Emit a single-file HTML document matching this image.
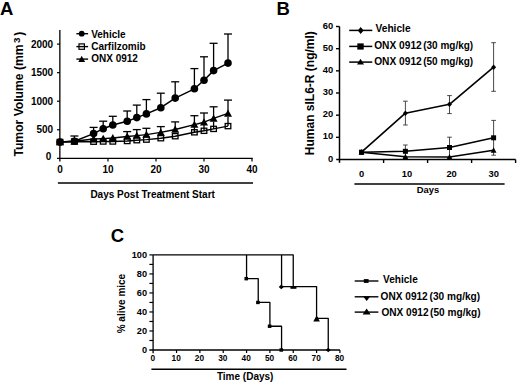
<!DOCTYPE html>
<html><head><meta charset="utf-8"><style>
html,body{margin:0;padding:0;background:#fff;}
body{width:520px;height:386px;overflow:hidden;}
svg{display:block;font-family:"Liberation Sans", sans-serif;}
</style></head><body>
<svg width="520" height="386" viewBox="0 0 520 386">
<rect width="520" height="386" fill="#fff"/>
<text x="0.00" y="14.80" font-size="18.5" text-anchor="start" font-weight="bold" >A</text>
<text transform="translate(23.1,156.6) rotate(-90)" font-size="12.15" font-weight="bold">Tumor Volume (mm<tspan font-size="9.8" dx="1.3" dy="-3.4">3</tspan><tspan dx="2.0" dy="3.4">)</tspan></text>
<line x1="59.85" y1="30.00" x2="59.85" y2="161.60" stroke="#000" stroke-width="1.3"/>
<line x1="57.00" y1="158.30" x2="252.70" y2="158.30" stroke="#000" stroke-width="1.3"/>
<line x1="57.00" y1="129.75" x2="60.00" y2="129.75" stroke="#000" stroke-width="1.2"/>
<line x1="57.00" y1="101.20" x2="60.00" y2="101.20" stroke="#000" stroke-width="1.2"/>
<line x1="57.00" y1="72.65" x2="60.00" y2="72.65" stroke="#000" stroke-width="1.2"/>
<line x1="57.00" y1="44.10" x2="60.00" y2="44.10" stroke="#000" stroke-width="1.2"/>
<line x1="108.00" y1="158.30" x2="108.00" y2="161.60" stroke="#000" stroke-width="1.2"/>
<line x1="156.00" y1="158.30" x2="156.00" y2="161.60" stroke="#000" stroke-width="1.2"/>
<line x1="204.00" y1="158.30" x2="204.00" y2="161.60" stroke="#000" stroke-width="1.2"/>
<line x1="252.00" y1="158.30" x2="252.00" y2="161.60" stroke="#000" stroke-width="1.2"/>
<text x="53.20" y="47.60" font-size="10" text-anchor="end" font-weight="bold" >2000</text>
<text x="53.20" y="76.15" font-size="10" text-anchor="end" font-weight="bold" >1500</text>
<text x="53.20" y="104.70" font-size="10" text-anchor="end" font-weight="bold" >1000</text>
<text x="53.20" y="133.25" font-size="10" text-anchor="end" font-weight="bold" >500</text>
<text x="51.20" y="160.00" font-size="10" text-anchor="end" font-weight="bold" >0</text>
<text x="60.00" y="173.40" font-size="10" text-anchor="middle" font-weight="bold" >0</text>
<text x="108.00" y="173.40" font-size="10" text-anchor="middle" font-weight="bold" >10</text>
<text x="156.00" y="173.40" font-size="10" text-anchor="middle" font-weight="bold" >20</text>
<text x="204.00" y="173.40" font-size="10" text-anchor="middle" font-weight="bold" >30</text>
<text x="252.00" y="173.40" font-size="10" text-anchor="middle" font-weight="bold" >40</text>
<line x1="57.90" y1="183.00" x2="253.00" y2="183.00" stroke="#000" stroke-width="1.5"/>
<text x="90.40" y="197.80" font-size="10" text-anchor="start" font-weight="bold" >Days Post Treatment Start</text>
<polyline points="60.00,142.00 74.40,141.50 93.60,141.70 103.20,141.50 112.80,141.50 127.20,141.00 136.80,140.20 146.40,139.60 160.80,138.20 175.20,136.20 194.40,132.30 204.00,130.80 213.60,128.90 228.00,126.10" fill="none" stroke="#000" stroke-width="1.4" stroke-linejoin="round"/>
<polyline points="60.00,142.00 74.40,141.20 93.60,139.00 103.20,138.60 112.80,138.00 127.20,136.50 136.80,135.60 146.40,134.60 160.80,132.40 175.20,129.50 194.40,124.60 204.00,122.20 213.60,118.40 228.00,113.40" fill="none" stroke="#000" stroke-width="1.4" stroke-linejoin="round"/>
<polyline points="60.00,142.10 74.40,141.20 93.60,133.60 103.20,128.70 112.80,125.00 127.20,121.30 136.80,117.60 146.40,113.90 160.80,107.70 175.20,98.10 194.40,88.80 204.00,80.20 213.60,70.60 228.00,63.10" fill="none" stroke="#000" stroke-width="1.5" stroke-linejoin="round"/>
<line x1="127.20" y1="136.50" x2="127.20" y2="131.60" stroke="#000" stroke-width="1.3"/>
<line x1="123.20" y1="131.60" x2="131.20" y2="131.60" stroke="#000" stroke-width="1.3"/>
<line x1="136.80" y1="135.60" x2="136.80" y2="129.60" stroke="#000" stroke-width="1.3"/>
<line x1="132.80" y1="129.60" x2="140.80" y2="129.60" stroke="#000" stroke-width="1.3"/>
<line x1="146.40" y1="134.60" x2="146.40" y2="128.30" stroke="#000" stroke-width="1.3"/>
<line x1="142.40" y1="128.30" x2="150.40" y2="128.30" stroke="#000" stroke-width="1.3"/>
<line x1="160.80" y1="132.40" x2="160.80" y2="126.60" stroke="#000" stroke-width="1.3"/>
<line x1="156.80" y1="126.60" x2="164.80" y2="126.60" stroke="#000" stroke-width="1.3"/>
<line x1="175.20" y1="129.50" x2="175.20" y2="121.90" stroke="#000" stroke-width="1.3"/>
<line x1="171.20" y1="121.90" x2="179.20" y2="121.90" stroke="#000" stroke-width="1.3"/>
<line x1="194.40" y1="124.60" x2="194.40" y2="115.70" stroke="#000" stroke-width="1.3"/>
<line x1="190.40" y1="115.70" x2="198.40" y2="115.70" stroke="#000" stroke-width="1.3"/>
<line x1="204.00" y1="122.20" x2="204.00" y2="113.00" stroke="#000" stroke-width="1.3"/>
<line x1="200.00" y1="113.00" x2="208.00" y2="113.00" stroke="#000" stroke-width="1.3"/>
<line x1="213.60" y1="118.40" x2="213.60" y2="106.80" stroke="#000" stroke-width="1.3"/>
<line x1="209.60" y1="106.80" x2="217.60" y2="106.80" stroke="#000" stroke-width="1.3"/>
<line x1="228.00" y1="113.40" x2="228.00" y2="100.10" stroke="#000" stroke-width="1.3"/>
<line x1="224.00" y1="100.10" x2="232.00" y2="100.10" stroke="#000" stroke-width="1.3"/>
<line x1="74.40" y1="141.20" x2="74.40" y2="136.00" stroke="#000" stroke-width="1.3"/>
<line x1="70.40" y1="136.00" x2="78.40" y2="136.00" stroke="#000" stroke-width="1.3"/>
<line x1="93.60" y1="133.60" x2="93.60" y2="127.40" stroke="#000" stroke-width="1.3"/>
<line x1="89.60" y1="127.40" x2="97.60" y2="127.40" stroke="#000" stroke-width="1.3"/>
<line x1="103.20" y1="128.70" x2="103.20" y2="121.20" stroke="#000" stroke-width="1.3"/>
<line x1="99.20" y1="121.20" x2="107.20" y2="121.20" stroke="#000" stroke-width="1.3"/>
<line x1="112.80" y1="125.00" x2="112.80" y2="116.30" stroke="#000" stroke-width="1.3"/>
<line x1="108.80" y1="116.30" x2="116.80" y2="116.30" stroke="#000" stroke-width="1.3"/>
<line x1="127.20" y1="121.30" x2="127.20" y2="111.00" stroke="#000" stroke-width="1.3"/>
<line x1="123.20" y1="111.00" x2="131.20" y2="111.00" stroke="#000" stroke-width="1.3"/>
<line x1="136.80" y1="117.60" x2="136.80" y2="105.10" stroke="#000" stroke-width="1.3"/>
<line x1="132.80" y1="105.10" x2="140.80" y2="105.10" stroke="#000" stroke-width="1.3"/>
<line x1="146.40" y1="113.90" x2="146.40" y2="99.60" stroke="#000" stroke-width="1.3"/>
<line x1="142.40" y1="99.60" x2="150.40" y2="99.60" stroke="#000" stroke-width="1.3"/>
<line x1="160.80" y1="107.70" x2="160.80" y2="93.20" stroke="#000" stroke-width="1.3"/>
<line x1="156.80" y1="93.20" x2="164.80" y2="93.20" stroke="#000" stroke-width="1.3"/>
<line x1="175.20" y1="98.10" x2="175.20" y2="81.80" stroke="#000" stroke-width="1.3"/>
<line x1="171.20" y1="81.80" x2="179.20" y2="81.80" stroke="#000" stroke-width="1.3"/>
<line x1="194.40" y1="88.80" x2="194.40" y2="68.60" stroke="#000" stroke-width="1.3"/>
<line x1="190.40" y1="68.60" x2="198.40" y2="68.60" stroke="#000" stroke-width="1.3"/>
<line x1="204.00" y1="80.20" x2="204.00" y2="56.80" stroke="#000" stroke-width="1.3"/>
<line x1="200.00" y1="56.80" x2="208.00" y2="56.80" stroke="#000" stroke-width="1.3"/>
<line x1="213.60" y1="70.60" x2="213.60" y2="43.30" stroke="#000" stroke-width="1.3"/>
<line x1="209.60" y1="43.30" x2="217.60" y2="43.30" stroke="#000" stroke-width="1.3"/>
<line x1="228.00" y1="63.10" x2="228.00" y2="34.00" stroke="#000" stroke-width="1.3"/>
<line x1="224.00" y1="34.00" x2="232.00" y2="34.00" stroke="#000" stroke-width="1.3"/>
<line x1="194.40" y1="132.30" x2="194.40" y2="126.50" stroke="#000" stroke-width="1.3"/>
<line x1="204.00" y1="130.80" x2="204.00" y2="125.00" stroke="#000" stroke-width="1.3"/>
<line x1="213.60" y1="128.90" x2="213.60" y2="121.50" stroke="#000" stroke-width="1.3"/>
<line x1="228.00" y1="126.10" x2="228.00" y2="117.00" stroke="#000" stroke-width="1.3"/>
<rect x="57.20" y="139.40" width="5.6" height="5.2" fill="none" stroke="#000" stroke-width="1.3"/>
<rect x="71.60" y="138.90" width="5.6" height="5.2" fill="none" stroke="#000" stroke-width="1.3"/>
<rect x="90.80" y="139.10" width="5.6" height="5.2" fill="none" stroke="#000" stroke-width="1.3"/>
<rect x="100.40" y="138.90" width="5.6" height="5.2" fill="none" stroke="#000" stroke-width="1.3"/>
<rect x="110.00" y="138.90" width="5.6" height="5.2" fill="none" stroke="#000" stroke-width="1.3"/>
<rect x="124.40" y="138.40" width="5.6" height="5.2" fill="none" stroke="#000" stroke-width="1.3"/>
<rect x="134.00" y="137.60" width="5.6" height="5.2" fill="none" stroke="#000" stroke-width="1.3"/>
<rect x="143.60" y="137.00" width="5.6" height="5.2" fill="none" stroke="#000" stroke-width="1.3"/>
<rect x="158.00" y="135.60" width="5.6" height="5.2" fill="none" stroke="#000" stroke-width="1.3"/>
<rect x="172.40" y="133.60" width="5.6" height="5.2" fill="none" stroke="#000" stroke-width="1.3"/>
<rect x="191.60" y="129.70" width="5.6" height="5.2" fill="none" stroke="#000" stroke-width="1.3"/>
<rect x="201.20" y="128.20" width="5.6" height="5.2" fill="none" stroke="#000" stroke-width="1.3"/>
<rect x="210.80" y="126.30" width="5.6" height="5.2" fill="none" stroke="#000" stroke-width="1.3"/>
<rect x="225.20" y="123.50" width="5.6" height="5.2" fill="none" stroke="#000" stroke-width="1.3"/>
<polygon points="60.00,138.04 64.00,145.24 56.00,145.24" fill="#000"/>
<polygon points="74.40,137.24 78.40,144.44 70.40,144.44" fill="#000"/>
<polygon points="93.60,135.04 97.60,142.24 89.60,142.24" fill="#000"/>
<polygon points="103.20,134.64 107.20,141.84 99.20,141.84" fill="#000"/>
<polygon points="112.80,134.04 116.80,141.24 108.80,141.24" fill="#000"/>
<polygon points="127.20,132.54 131.20,139.74 123.20,139.74" fill="#000"/>
<polygon points="136.80,131.64 140.80,138.84 132.80,138.84" fill="#000"/>
<polygon points="146.40,130.64 150.40,137.84 142.40,137.84" fill="#000"/>
<polygon points="160.80,128.44 164.80,135.64 156.80,135.64" fill="#000"/>
<polygon points="175.20,125.54 179.20,132.74 171.20,132.74" fill="#000"/>
<polygon points="194.40,120.64 198.40,127.84 190.40,127.84" fill="#000"/>
<polygon points="204.00,118.24 208.00,125.44 200.00,125.44" fill="#000"/>
<polygon points="213.60,114.44 217.60,121.64 209.60,121.64" fill="#000"/>
<polygon points="228.00,109.44 232.00,116.64 224.00,116.64" fill="#000"/>
<circle cx="60.00" cy="142.10" r="3.8" fill="#000"/>
<circle cx="74.40" cy="141.20" r="3.8" fill="#000"/>
<circle cx="93.60" cy="133.60" r="3.8" fill="#000"/>
<circle cx="103.20" cy="128.70" r="3.8" fill="#000"/>
<circle cx="112.80" cy="125.00" r="3.8" fill="#000"/>
<circle cx="127.20" cy="121.30" r="3.8" fill="#000"/>
<circle cx="136.80" cy="117.60" r="3.8" fill="#000"/>
<circle cx="146.40" cy="113.90" r="3.8" fill="#000"/>
<circle cx="160.80" cy="107.70" r="3.8" fill="#000"/>
<circle cx="175.20" cy="98.10" r="3.8" fill="#000"/>
<circle cx="194.40" cy="88.80" r="3.8" fill="#000"/>
<circle cx="204.00" cy="80.20" r="3.8" fill="#000"/>
<circle cx="213.60" cy="70.60" r="3.8" fill="#000"/>
<circle cx="228.00" cy="63.10" r="3.8" fill="#000"/>
<line x1="76.40" y1="33.70" x2="88.10" y2="33.70" stroke="#000" stroke-width="1.4"/>
<circle cx="81.70" cy="33.70" r="2.9" fill="#000"/>
<text x="91.20" y="38.00" font-size="10" text-anchor="start" font-weight="bold" >Vehicle</text>
<line x1="76.40" y1="46.60" x2="88.10" y2="46.60" stroke="#000" stroke-width="1.4"/>
<rect x="79.00" y="43.90" width="5.4" height="5.4" fill="none" stroke="#000" stroke-width="1.2"/>
<text x="91.20" y="50.00" font-size="10" text-anchor="start" font-weight="bold" >Carfilzomib</text>
<line x1="76.40" y1="59.10" x2="88.10" y2="59.10" stroke="#000" stroke-width="1.4"/>
<polygon points="81.70,55.69 85.10,61.89 78.30,61.89" fill="#000"/>
<text x="91.20" y="62.00" font-size="10" text-anchor="start" font-weight="bold" >ONX 0912</text>
<text x="276.40" y="14.80" font-size="18.5" text-anchor="start" font-weight="bold" >B</text>
<text transform="translate(314,155.2) rotate(-90)" font-size="12" font-weight="bold">Human sIL6-R (ng/ml)</text>
<line x1="339.50" y1="26.50" x2="339.50" y2="162.80" stroke="#000" stroke-width="1.5"/>
<line x1="336.20" y1="159.50" x2="515.60" y2="159.50" stroke="#000" stroke-width="1.5"/>
<line x1="336.00" y1="137.33" x2="339.50" y2="137.33" stroke="#000" stroke-width="1.4"/>
<line x1="336.00" y1="115.17" x2="339.50" y2="115.17" stroke="#000" stroke-width="1.4"/>
<line x1="336.00" y1="93.00" x2="339.50" y2="93.00" stroke="#000" stroke-width="1.4"/>
<line x1="336.00" y1="70.83" x2="339.50" y2="70.83" stroke="#000" stroke-width="1.4"/>
<line x1="336.00" y1="48.67" x2="339.50" y2="48.67" stroke="#000" stroke-width="1.4"/>
<line x1="336.00" y1="26.50" x2="339.50" y2="26.50" stroke="#000" stroke-width="1.4"/>
<line x1="383.60" y1="159.50" x2="383.60" y2="163.00" stroke="#000" stroke-width="1.4"/>
<line x1="427.60" y1="159.50" x2="427.60" y2="163.00" stroke="#000" stroke-width="1.4"/>
<line x1="471.60" y1="159.50" x2="471.60" y2="163.00" stroke="#000" stroke-width="1.4"/>
<line x1="515.60" y1="159.50" x2="515.60" y2="163.00" stroke="#000" stroke-width="1.4"/>
<text x="333.30" y="161.60" font-size="9.4" text-anchor="end" font-weight="bold" >0</text>
<text x="333.30" y="139.43" font-size="9.4" text-anchor="end" font-weight="bold" >10</text>
<text x="333.30" y="117.27" font-size="9.4" text-anchor="end" font-weight="bold" >20</text>
<text x="333.30" y="95.10" font-size="9.4" text-anchor="end" font-weight="bold" >30</text>
<text x="333.30" y="72.93" font-size="9.4" text-anchor="end" font-weight="bold" >40</text>
<text x="333.30" y="50.77" font-size="9.4" text-anchor="end" font-weight="bold" >50</text>
<text x="333.30" y="28.60" font-size="9.4" text-anchor="end" font-weight="bold" >60</text>
<text x="361.60" y="177.00" font-size="9.4" text-anchor="middle" font-weight="bold" >0</text>
<text x="407.00" y="177.00" font-size="9.4" text-anchor="middle" font-weight="bold" >10</text>
<text x="451.60" y="177.00" font-size="9.4" text-anchor="middle" font-weight="bold" >20</text>
<text x="493.80" y="177.00" font-size="9.4" text-anchor="middle" font-weight="bold" >30</text>
<line x1="354.40" y1="184.00" x2="504.60" y2="184.00" stroke="#000" stroke-width="1.5"/>
<text x="416.70" y="193.40" font-size="9.4" text-anchor="start" font-weight="bold" >Days</text>
<line x1="405.40" y1="145.00" x2="405.40" y2="157.60" stroke="#333" stroke-width="0.9"/>
<line x1="403.10" y1="145.00" x2="407.70" y2="145.00" stroke="#333" stroke-width="0.9"/>
<line x1="403.10" y1="157.60" x2="407.70" y2="157.60" stroke="#333" stroke-width="0.9"/>
<line x1="449.50" y1="137.20" x2="449.50" y2="157.80" stroke="#333" stroke-width="0.9"/>
<line x1="447.20" y1="137.20" x2="451.80" y2="137.20" stroke="#333" stroke-width="0.9"/>
<line x1="447.20" y1="157.80" x2="451.80" y2="157.80" stroke="#333" stroke-width="0.9"/>
<line x1="493.60" y1="120.40" x2="493.60" y2="155.20" stroke="#333" stroke-width="0.9"/>
<line x1="491.30" y1="120.40" x2="495.90" y2="120.40" stroke="#333" stroke-width="0.9"/>
<line x1="491.30" y1="155.20" x2="495.90" y2="155.20" stroke="#333" stroke-width="0.9"/>
<line x1="405.40" y1="101.20" x2="405.40" y2="125.00" stroke="#333" stroke-width="0.9"/>
<line x1="403.10" y1="101.20" x2="407.70" y2="101.20" stroke="#333" stroke-width="0.9"/>
<line x1="403.10" y1="125.00" x2="407.70" y2="125.00" stroke="#333" stroke-width="0.9"/>
<line x1="449.50" y1="95.60" x2="449.50" y2="113.60" stroke="#333" stroke-width="0.9"/>
<line x1="447.20" y1="95.60" x2="451.80" y2="95.60" stroke="#333" stroke-width="0.9"/>
<line x1="447.20" y1="113.60" x2="451.80" y2="113.60" stroke="#333" stroke-width="0.9"/>
<line x1="493.60" y1="42.70" x2="493.60" y2="91.30" stroke="#333" stroke-width="0.9"/>
<line x1="491.30" y1="42.70" x2="495.90" y2="42.70" stroke="#333" stroke-width="0.9"/>
<line x1="491.30" y1="91.30" x2="495.90" y2="91.30" stroke="#333" stroke-width="0.9"/>
<polyline points="361.50,152.20 405.40,156.80 449.50,157.00 493.60,150.30" fill="none" stroke="#000" stroke-width="1.4" stroke-linejoin="round"/>
<polyline points="361.50,152.20 405.40,151.30 449.50,147.50 493.60,137.80" fill="none" stroke="#000" stroke-width="1.5" stroke-linejoin="round"/>
<polyline points="361.50,152.20 405.40,113.20 449.50,104.30 493.60,67.20" fill="none" stroke="#000" stroke-width="1.6" stroke-linejoin="round"/>
<polygon points="361.50,149.12 364.40,154.72 358.60,154.72" fill="#000"/>
<polygon points="405.40,153.72 408.30,159.32 402.50,159.32" fill="#000"/>
<polygon points="449.50,153.92 452.40,159.52 446.60,159.52" fill="#000"/>
<polygon points="493.60,147.22 496.50,152.82 490.70,152.82" fill="#000"/>
<rect x="359.00" y="149.70" width="5.0" height="5.0" fill="#000"/>
<rect x="402.90" y="148.80" width="5.0" height="5.0" fill="#000"/>
<rect x="447.00" y="145.00" width="5.0" height="5.0" fill="#000"/>
<rect x="491.10" y="135.30" width="5.0" height="5.0" fill="#000"/>
<polygon points="361.50,149.50 364.00,152.20 361.50,154.90 359.00,152.20" fill="#000"/>
<polygon points="405.40,110.50 407.90,113.20 405.40,115.90 402.90,113.20" fill="#000"/>
<polygon points="449.50,101.60 452.00,104.30 449.50,107.00 447.00,104.30" fill="#000"/>
<polygon points="493.60,64.50 496.10,67.20 493.60,69.90 491.10,67.20" fill="#000"/>
<line x1="349.20" y1="30.40" x2="372.30" y2="30.40" stroke="#000" stroke-width="1.5"/>
<polygon points="360.70,27.10 363.60,30.50 360.70,33.90 357.80,30.50" fill="#000"/>
<text x="375.50" y="32.40" font-size="10.2" text-anchor="start" font-weight="bold" >Vehicle</text>
<line x1="349.20" y1="46.40" x2="372.30" y2="46.40" stroke="#000" stroke-width="1.5"/>
<rect x="357.30" y="43.40" width="6.4" height="6.2" fill="#000"/>
<text x="374.20" y="49.30" font-size="10.2" text-anchor="start" font-weight="bold" >ONX 0912</text>
<text x="423.20" y="49.30" font-size="10.0" text-anchor="start" font-weight="bold" >(30 mg/kg)</text>
<line x1="349.20" y1="62.10" x2="372.30" y2="62.10" stroke="#000" stroke-width="1.5"/>
<polygon points="360.50,58.81 364.00,64.61 357.00,64.61" fill="#000"/>
<text x="374.20" y="65.10" font-size="10.2" text-anchor="start" font-weight="bold" >ONX 0912</text>
<text x="423.20" y="65.10" font-size="10.0" text-anchor="start" font-weight="bold" >(50 mg/kg)</text>
<text x="110.80" y="242.00" font-size="18.5" text-anchor="start" font-weight="bold" >C</text>
<text transform="translate(124.5,333.3) rotate(-90)" font-size="10" font-weight="bold">% alive mice</text>
<line x1="153.10" y1="254.90" x2="153.10" y2="353.30" stroke="#000" stroke-width="1.3"/>
<line x1="149.30" y1="350.00" x2="339.90" y2="350.00" stroke="#000" stroke-width="1.3"/>
<line x1="149.40" y1="340.49" x2="153.10" y2="340.49" stroke="#000" stroke-width="1.2"/>
<line x1="149.40" y1="330.98" x2="153.10" y2="330.98" stroke="#000" stroke-width="1.2"/>
<line x1="149.40" y1="321.47" x2="153.10" y2="321.47" stroke="#000" stroke-width="1.2"/>
<line x1="149.40" y1="311.96" x2="153.10" y2="311.96" stroke="#000" stroke-width="1.2"/>
<line x1="149.40" y1="302.45" x2="153.10" y2="302.45" stroke="#000" stroke-width="1.2"/>
<line x1="149.40" y1="292.94" x2="153.10" y2="292.94" stroke="#000" stroke-width="1.2"/>
<line x1="149.40" y1="283.43" x2="153.10" y2="283.43" stroke="#000" stroke-width="1.2"/>
<line x1="149.40" y1="273.92" x2="153.10" y2="273.92" stroke="#000" stroke-width="1.2"/>
<line x1="149.40" y1="264.41" x2="153.10" y2="264.41" stroke="#000" stroke-width="1.2"/>
<line x1="149.40" y1="254.90" x2="153.10" y2="254.90" stroke="#000" stroke-width="1.2"/>
<line x1="176.54" y1="350.00" x2="176.54" y2="353.00" stroke="#000" stroke-width="1.2"/>
<line x1="199.88" y1="350.00" x2="199.88" y2="353.00" stroke="#000" stroke-width="1.2"/>
<line x1="223.22" y1="350.00" x2="223.22" y2="353.00" stroke="#000" stroke-width="1.2"/>
<line x1="246.56" y1="350.00" x2="246.56" y2="353.00" stroke="#000" stroke-width="1.2"/>
<line x1="269.90" y1="350.00" x2="269.90" y2="353.00" stroke="#000" stroke-width="1.2"/>
<line x1="293.24" y1="350.00" x2="293.24" y2="353.00" stroke="#000" stroke-width="1.2"/>
<line x1="316.58" y1="350.00" x2="316.58" y2="353.00" stroke="#000" stroke-width="1.2"/>
<line x1="339.92" y1="350.00" x2="339.92" y2="353.00" stroke="#000" stroke-width="1.2"/>
<text x="147.00" y="353.10" font-size="9.2" text-anchor="end" font-weight="bold" >0</text>
<text x="147.00" y="334.08" font-size="9.2" text-anchor="end" font-weight="bold" >20</text>
<text x="147.00" y="315.06" font-size="9.2" text-anchor="end" font-weight="bold" >40</text>
<text x="147.00" y="296.04" font-size="9.2" text-anchor="end" font-weight="bold" >60</text>
<text x="147.00" y="277.02" font-size="9.2" text-anchor="end" font-weight="bold" >80</text>
<text x="147.00" y="258.00" font-size="9.2" text-anchor="end" font-weight="bold" >100</text>
<text x="152.80" y="361.30" font-size="8.3" text-anchor="middle" font-weight="bold" >0</text>
<text x="176.14" y="361.30" font-size="8.3" text-anchor="middle" font-weight="bold" >10</text>
<text x="199.48" y="361.30" font-size="8.3" text-anchor="middle" font-weight="bold" >20</text>
<text x="222.82" y="361.30" font-size="8.3" text-anchor="middle" font-weight="bold" >30</text>
<text x="246.16" y="361.30" font-size="8.3" text-anchor="middle" font-weight="bold" >40</text>
<text x="269.50" y="361.30" font-size="8.3" text-anchor="middle" font-weight="bold" >50</text>
<text x="292.84" y="361.30" font-size="8.3" text-anchor="middle" font-weight="bold" >60</text>
<text x="316.18" y="361.30" font-size="8.3" text-anchor="middle" font-weight="bold" >70</text>
<text x="339.52" y="361.30" font-size="8.3" text-anchor="middle" font-weight="bold" >80</text>
<line x1="151.40" y1="369.30" x2="346.50" y2="369.30" stroke="#000" stroke-width="1.4"/>
<text x="216.90" y="380.40" font-size="10" text-anchor="start" font-weight="bold" >Time (Days)</text>
<polyline points="153.10,254.90 293.24,254.90 293.24,286.60 316.58,286.60 316.58,318.30 328.25,318.30 328.25,350.00" fill="none" stroke="#000" stroke-width="1.3" stroke-linejoin="round"/>
<polyline points="281.57,254.90 281.57,286.60 293.24,286.60" fill="none" stroke="#000" stroke-width="1.3" stroke-linejoin="round"/>
<polyline points="246.56,254.90 246.56,278.68 258.23,278.68 258.23,302.45 269.90,302.45 269.90,326.23 281.57,326.23 281.57,350.00" fill="none" stroke="#000" stroke-width="1.3" stroke-linejoin="round"/>
<rect x="244.46" y="276.98" width="3.6" height="3.4" fill="#000"/>
<rect x="256.13" y="300.75" width="3.6" height="3.4" fill="#000"/>
<rect x="267.80" y="324.53" width="3.6" height="3.4" fill="#000"/>
<rect x="279.47" y="348.30" width="3.6" height="3.4" fill="#000"/>
<polygon points="281.27,284.60 283.77,286.90 281.27,289.20 278.77,286.90" fill="#000"/>
<rect x="290.44" y="286.20" width="6.0" height="2.6" fill="#000"/>
<polygon points="316.58,315.40 319.88,321.40 313.28,321.40" fill="#000"/>
<polygon points="316.98,316.80 318.98,318.80 316.98,320.80 314.98,318.80" fill="#000"/>
<polygon points="328.25,347.70 330.75,350.00 328.25,352.30 325.75,350.00" fill="#000"/>
<line x1="354.70" y1="281.00" x2="378.40" y2="281.00" stroke="#000" stroke-width="1.4"/>
<rect x="363.80" y="279.10" width="4.8" height="3.8" fill="#000"/>
<text x="383.00" y="283.40" font-size="10.1" text-anchor="start" font-weight="bold" >Vehicle</text>
<line x1="354.70" y1="296.80" x2="378.40" y2="296.80" stroke="#000" stroke-width="1.4"/>
<polygon points="363.0,296.2 370.4,296.2 366.7,301.0" fill="#000"/>
<text x="380.60" y="300.40" font-size="10.1" text-anchor="start" font-weight="bold" >ONX 0912</text>
<text x="429.60" y="300.40" font-size="10.1" text-anchor="start" font-weight="bold" >(30 mg/kg)</text>
<line x1="354.70" y1="312.10" x2="378.40" y2="312.10" stroke="#000" stroke-width="1.4"/>
<polygon points="366.60,308.39 370.60,314.59 362.60,314.59" fill="#000"/>
<text x="381.40" y="316.30" font-size="10.1" text-anchor="start" font-weight="bold" >ONX 0912</text>
<text x="430.10" y="316.30" font-size="10.1" text-anchor="start" font-weight="bold" >(50 mg/kg)</text>
</svg>
</body></html>
